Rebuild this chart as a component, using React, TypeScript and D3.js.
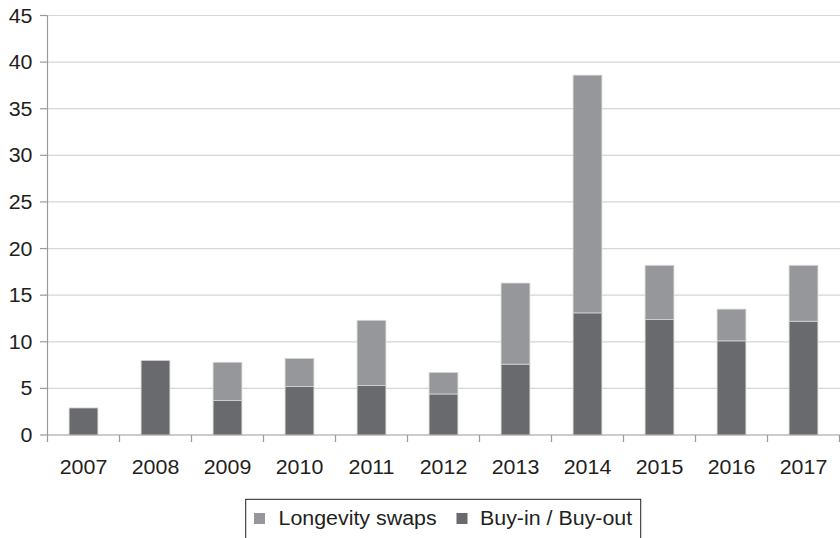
import React from "react";
import * as d3 from "d3";

const years = ["2007","2008","2009","2010","2011","2012","2013","2014","2015","2016","2017"];
const buyIn = [2.9, 8.0, 3.7, 5.2, 5.3, 4.4, 7.6, 13.1, 12.4, 10.1, 12.2];
const longevity = [0, 0, 4.1, 3.0, 7.0, 2.3, 8.7, 25.5, 5.8, 3.4, 6.0];
const yTicks = [0, 5, 10, 15, 20, 25, 30, 35, 40, 45];
const seriesNames = ["Longevity swaps", "Buy-in / Buy-out"];

const W = 840, H = 538;
const left = 47.5, right = 839.5, top = 15.5, bottom = 435;
const DARK = "#696a6e";
const LIGHT = "#96979b";
const FONT = "'Liberation Sans', Arial, sans-serif";
const SX = 1.07;

export default function App() {
  const x = d3.scaleBand<string>().domain(years).range([left, right]).paddingInner(0.6).paddingOuter(0.3);
  const band = d3.scaleBand<string>().domain(years).range([left, right]);
  const y = d3.scaleLinear().domain([0, 45]).range([bottom, top]);

  const stackData = years.map((yr, i) => ({ year: yr, buy: buyIn[i], lon: longevity[i] }));
  const stack = d3.stack<any>().keys(["buy", "lon"])(stackData);
  const colors: Record<string, string> = { buy: DARK, lon: LIGHT };

  const txt = (xx: number, yy: number, s: string, anchor: string) => (
    <text
      key={s + xx + yy}
      transform={`translate(${xx},${yy}) scale(${SX},1)`}
      textAnchor={anchor as any}
      fontFamily={FONT}
      fontSize={20}
      fill="#231f20"
    >
      {s}
    </text>
  );

  return (
    <svg width={W} height={H} style={{ position: "absolute", left: 0, top: 0, background: "#fff" }}>
      {/* grid */}
      {yTicks.filter((t) => t > 0).map((t) => (
        <line key={"g" + t} x1={left} x2={W} y1={y(t)} y2={y(t)} stroke="#d6d6d6" strokeWidth={1.2} />
      ))}
      {/* y tick marks */}
      {yTicks.map((t) => (
        <line key={"yt" + t} x1={40} x2={left} y1={y(t)} y2={y(t)} stroke="#9a9a9a" strokeWidth={1.2} />
      ))}
      {/* bars */}
      {stack.map((layer) =>
        layer.map((d, i) =>
          d[1] - d[0] > 0 ? (
            <rect
              key={layer.key + i}
              x={x(years[i])!}
              width={x.bandwidth()}
              y={y(d[1])}
              height={y(d[0]) - y(d[1])}
              fill={colors[layer.key]}
              stroke="#d4d4d4"
              strokeWidth={0.8}
            />
          ) : null
        )
      )}
      {/* axes */}
      <line x1={left} x2={left} y1={top} y2={bottom} stroke="#9a9a9a" strokeWidth={1.2} />
      <line x1={left} x2={W} y1={bottom} y2={bottom} stroke="#9a9a9a" strokeWidth={1.2} />
      {years.map((yr) => (
        <line key={"xt" + yr} x1={band(yr)!} x2={band(yr)!} y1={bottom} y2={bottom + 7} stroke="#9a9a9a" strokeWidth={1.2} />
      ))}
      <line x1={right} x2={right} y1={bottom} y2={bottom + 7} stroke="#9a9a9a" strokeWidth={1.2} />
      {/* y labels */}
      {yTicks.map((t) => txt(32.5, y(t) + 7, String(t), "end"))}
      {/* x labels */}
      {years.map((yr) => txt(band(yr)! + band.bandwidth() / 2, 474, yr, "middle"))}
      {/* legend */}
      <rect x={245.7} y={499.3} width={395} height={60} fill="#fff" stroke="#231f20" strokeWidth={1} />
      <rect x={254} y={513} width={11} height={11} fill={LIGHT} />
      {txt(278.5, 525, seriesNames[0], "start")}
      <rect x={456.5} y={513} width={11} height={11} fill={DARK} />
      {txt(480, 525, seriesNames[1], "start")}
    </svg>
  );
}
